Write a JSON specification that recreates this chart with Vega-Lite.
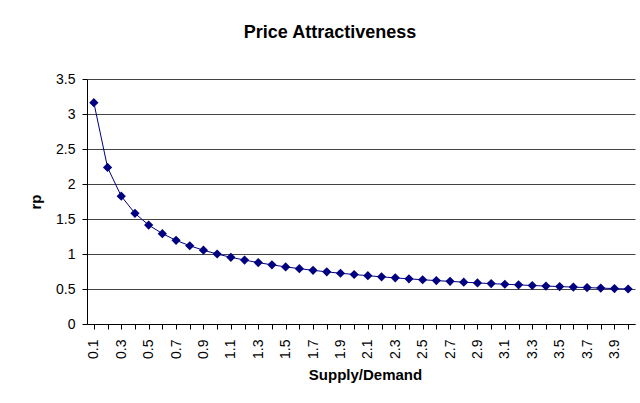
{
  "$schema": "https://vega.github.io/schema/vega-lite/v6.json",
  "width": 548,
  "height": 245,
  "autosize": "none",
  "padding": {"left": 87, "top": 79, "right": 5, "bottom": 79},
  "background": "white",
  "title": {
    "text": "Price Attractiveness",
    "font": "Liberation Sans",
    "fontSize": 18,
    "fontWeight": "bold",
    "color": "black",
    "anchor": "middle",
    "dx": -31,
    "offset": 30
  },
  "config": {
    "view": {"stroke": null},
    "axis": {
      "labelFont": "Liberation Sans",
      "labelFontSize": 14,
      "labelColor": "black",
      "titleFont": "Liberation Sans",
      "titleFontSize": 15,
      "titleFontWeight": "bold",
      "titleColor": "black",
      "domainColor": "black",
      "tickColor": "black"
    }
  },
  "data": {
    "values": [
      {"sd": "0.1", "rp": 3.162}, {"sd": "0.2", "rp": 2.236}, {"sd": "0.3", "rp": 1.826}, {"sd": "0.4", "rp": 1.581},
      {"sd": "0.5", "rp": 1.414}, {"sd": "0.6", "rp": 1.291}, {"sd": "0.7", "rp": 1.195}, {"sd": "0.8", "rp": 1.118},
      {"sd": "0.9", "rp": 1.054}, {"sd": "1.0", "rp": 1.0}, {"sd": "1.1", "rp": 0.953}, {"sd": "1.2", "rp": 0.913},
      {"sd": "1.3", "rp": 0.877}, {"sd": "1.4", "rp": 0.845}, {"sd": "1.5", "rp": 0.816}, {"sd": "1.6", "rp": 0.791},
      {"sd": "1.7", "rp": 0.767}, {"sd": "1.8", "rp": 0.745}, {"sd": "1.9", "rp": 0.725}, {"sd": "2.0", "rp": 0.707},
      {"sd": "2.1", "rp": 0.69}, {"sd": "2.2", "rp": 0.674}, {"sd": "2.3", "rp": 0.659}, {"sd": "2.4", "rp": 0.645},
      {"sd": "2.5", "rp": 0.632}, {"sd": "2.6", "rp": 0.62}, {"sd": "2.7", "rp": 0.609}, {"sd": "2.8", "rp": 0.598},
      {"sd": "2.9", "rp": 0.587}, {"sd": "3.0", "rp": 0.577}, {"sd": "3.1", "rp": 0.568}, {"sd": "3.2", "rp": 0.559},
      {"sd": "3.3", "rp": 0.55}, {"sd": "3.4", "rp": 0.542}, {"sd": "3.5", "rp": 0.535}, {"sd": "3.6", "rp": 0.527},
      {"sd": "3.7", "rp": 0.52}, {"sd": "3.8", "rp": 0.513}, {"sd": "3.9", "rp": 0.506}, {"sd": "4.0", "rp": 0.5}
    ]
  },
  "encoding": {
    "y": {
      "field": "rp",
      "type": "quantitative",
      "scale": {"domain": [0, 3.5], "nice": false, "zero": true},
      "axis": {
        "values": [0, 0.5, 1, 1.5, 2, 2.5, 3, 3.5],
        "format": "~g",
        "grid": true,
        "gridColor": "#444444",
        "gridWidth": 1,
        "tickSize": 5,
        "labelPadding": 7,
        "title": "rp",
        "titlePadding": 12
      }
    }
  },
  "layer": [
    {
      "mark": {"type": "line", "color": "#000080", "strokeWidth": 1},
      "encoding": {
        "x": {
          "field": "sd",
          "type": "ordinal",
          "sort": null,
          "scale": {"paddingInner": 0, "paddingOuter": 0},
          "axis": {
            "bandPosition": 0,
            "labels": false,
            "title": null,
            "grid": false,
            "tickSize": 5,
            "orient": "bottom"
          }
        }
      }
    },
    {
      "mark": {"type": "point", "shape": "diamond", "filled": true, "size": 85, "color": "#000080", "opacity": 1},
      "encoding": {
        "x": {
          "field": "sd",
          "type": "ordinal",
          "sort": null,
          "scale": {"paddingInner": 0, "paddingOuter": 0},
          "axis": {
            "orient": "bottom",
            "domain": false,
            "ticks": false,
            "grid": false,
            "values": ["0.1","0.3","0.5","0.7","0.9","1.1","1.3","1.5","1.7","1.9","2.1","2.3","2.5","2.7","2.9","3.1","3.3","3.5","3.7","3.9"],
            "labelAngle": -90,
            "labelPadding": 15,
            "title": "Supply/Demand",
            "titlePadding": 9,
            "titleX": 278
          }
        }
      }
    }
  ],
  "resolve": {"axis": {"x": "independent"}}
}
